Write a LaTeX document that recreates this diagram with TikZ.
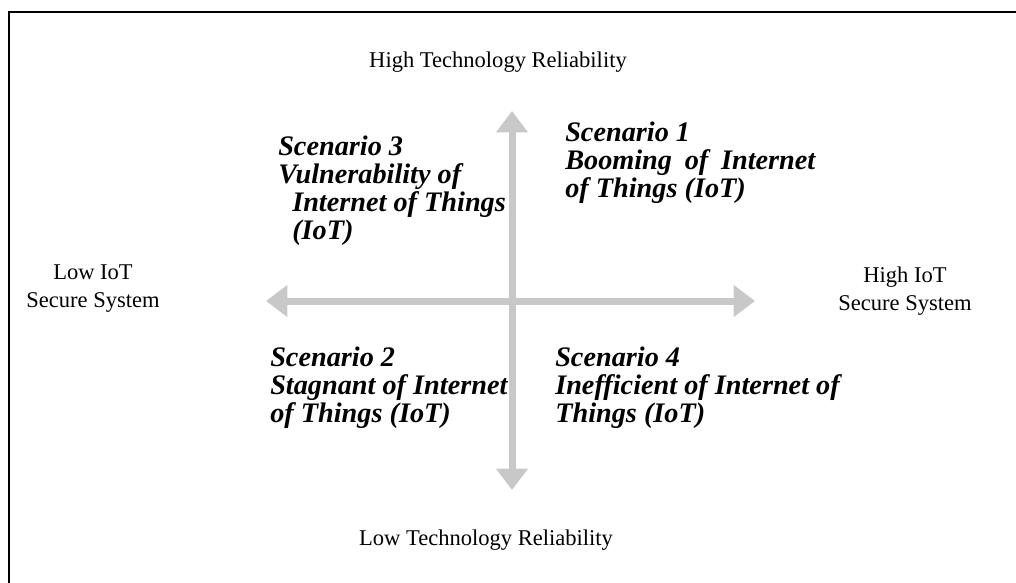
\documentclass[tikz,border=0pt]{standalone}
\usepackage{fontspec}
\setmainfont{Liberation Serif}
\usetikzlibrary{arrows.meta}
\definecolor{axisgray}{HTML}{C8C8C8}
\tikzstyle{every picture}=[x=0.75pt, y=-0.75pt]
\tikzstyle{axis}=[axisgray, line width=5.25pt, {Triangle[width=23pt,length=16pt]}-{Triangle[width=23pt,length=16pt]}]
\tikzstyle{axistext}=[inner sep=0pt, align=center, font=\fontsize{16.9}{21}\selectfont]
\tikzstyle{scenario}=[anchor=base west, inner sep=0pt, align=left, font=\fontsize{21.2}{21}\selectfont\bfseries\itshape]

\begin{document}
\begin{tikzpicture}
	\useasboundingbox (0,0) rectangle (1016,582);
	% frame
	\draw[line width=1.5pt] (9,600) -- (9,12) -- (1030,12);

	\coordinate (top) at (512,111);
	\coordinate (bot) at (512,490);
	\coordinate (lft) at (266,301);
	\coordinate (rgt) at (755,301);

	\draw[axis] (lft) -- (rgt);
	\draw[axis] (bot) -- (top);

	% base anchor sits on the last line
	\path (498,67) node[axistext, anchor=base] (hightech) {High Technology Reliability}
	      (486,545) node[axistext, anchor=base] (lowtech) {Low Technology Reliability}
	      (93,307) node[axistext, anchor=base] (lowsec) {Low IoT\\Secure System}
	      (905,310) node[axistext, anchor=base] (highsec) {High IoT\\Secure System};

	\path (278,239) node[scenario] (sc_3) {Scenario 3\\Vulnerability of\\\hspace*{10.5pt}Internet of Things\\\hspace*{10.5pt}(IoT)}
	      (565,197) node[scenario] (sc_1) {Scenario 1\\Booming\hspace{0.45em}of\hspace{0.45em}Internet\\of Things (IoT)}
	      (270,422) node[scenario] (sc_2) {Scenario 2\\Stagnant of Internet\\of Things (IoT)}
	      (555,422) node[scenario] (sc_4) {Scenario 4\\Inefficient of Internet of\\Things (IoT)};

\end{tikzpicture}
\end{document}
